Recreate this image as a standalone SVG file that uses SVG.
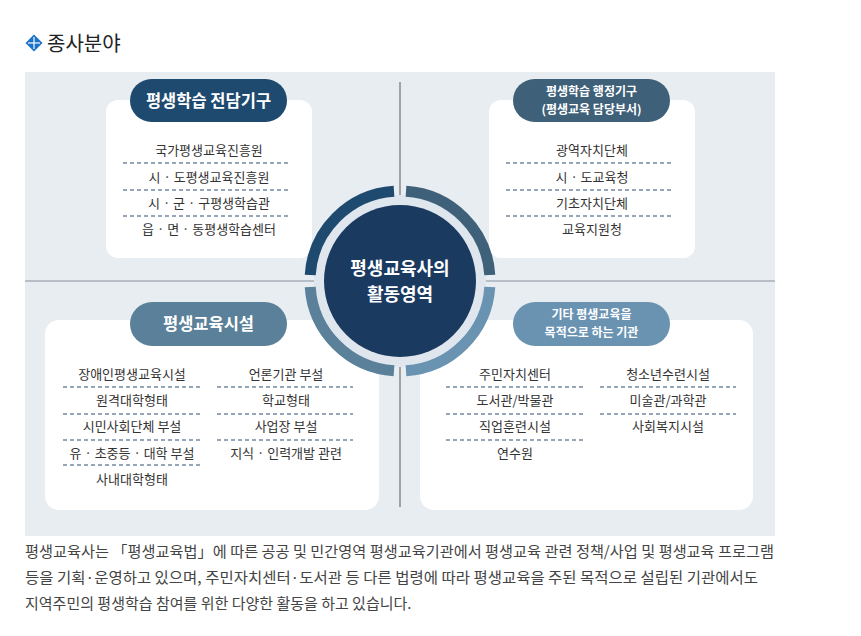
<svg xmlns="http://www.w3.org/2000/svg" width="861" height="636" viewBox="0 0 861 636">
<style>
text{font-family:"Noto Sans CJK KR","Noto Sans",sans-serif}
.it{font-size:13px;fill:#333;text-anchor:middle}
.pl{font-size:16.5px;fill:#fff;font-weight:bold;text-anchor:middle}
.pl2{font-size:12px;fill:#fff;font-weight:bold;text-anchor:middle}
.box{fill:#fff}
.d{stroke:#2c4f78;stroke-width:1.2;stroke-dasharray:4 3;fill:none}
.b{font-size:15px;fill:#444}
</style>
<rect width="861" height="636" fill="#fff"/>
<g id="title">
<rect x="28" y="37" width="12" height="12" transform="rotate(45 34 43)" fill="#1a73c8"/>
<line x1="28" y1="43" x2="40" y2="43" stroke="#fff" stroke-width="1.2"/>
<line x1="34" y1="37" x2="34" y2="49" stroke="#fff" stroke-width="1.2"/>
<text x="47" y="51" font-size="20" fill="#222">종사분야</text>
</g>
<rect x="25" y="72" width="750" height="464" fill="#e8edf2"/>
<g id="connectors">
<line x1="400" y1="82" x2="400" y2="507" stroke="#888" stroke-width="1.5"/>
<line x1="25" y1="281" x2="775" y2="281" stroke="#b8bec6" stroke-width="2"/>
</g>
<g id="tl">
<rect class="box" x="106" y="100" width="206" height="158" rx="12"/>
<rect x="130" y="79" width="157" height="43" rx="21.5" fill="#1e4a70"/>
<text class="pl" x="208.5" y="106.5">평생학습 전담기구</text>
<text class="it" x="209" y="155">국가평생교육진흥원</text>
<text class="it" x="209" y="182">시 · 도평생교육진흥원</text>
<text class="it" x="209" y="208">시 · 군 · 구평생학습관</text>
<text class="it" x="209" y="234">읍 · 면 · 동평생학습센터</text>
<path class="d" d="M123 163H291M123 190H291M123 216H291"/>
</g>
<g id="tr">
<rect class="box" x="489" y="100" width="206" height="158" rx="12"/>
<rect x="513" y="79" width="157" height="43" rx="21.5" fill="#3e6079"/>
<text class="pl2" x="591.5" y="96">평생학습 행정기구</text>
<text class="pl2" x="591.5" y="114">(평생교육 담당부서)</text>
<text class="it" x="592" y="155">광역자치단체</text>
<text class="it" x="592" y="182">시 · 도교육청</text>
<text class="it" x="592" y="208">기초자치단체</text>
<text class="it" x="592" y="234">교육지원청</text>
<path class="d" d="M506 163H674M506 190H674M506 216H674"/>
</g>
<g id="bl">
<rect class="box" x="45" y="320" width="334" height="190" rx="14"/>
<rect x="130" y="302" width="157" height="44" rx="22" fill="#5a8199"/>
<text class="pl" x="208.5" y="330">평생교육시설</text>
<text class="it" x="132" y="379">장애인평생교육시설</text>
<text class="it" x="132" y="405">원격대학형태</text>
<text class="it" x="132" y="431">시민사회단체 부설</text>
<text class="it" x="132" y="458">유 · 초중등 · 대학 부설</text>
<text class="it" x="132" y="484">사내대학형태</text>
<text class="it" x="286" y="379">언론기관 부설</text>
<text class="it" x="286" y="405">학교형태</text>
<text class="it" x="286" y="431">사업장 부설</text>
<text class="it" x="286" y="458">지식 · 인력개발 관련</text>
<path class="d" d="M63 387H200M63 414H200M63 440H200M63 465H200M217 387H353M217 414H353M217 440H353"/>
</g>
<g id="br">
<rect class="box" x="420" y="320" width="333" height="190" rx="14"/>
<rect x="513" y="302" width="157" height="44" rx="22" fill="#6a93b2"/>
<text class="pl2" x="591.5" y="319">기타 평생교육을</text>
<text class="pl2" x="591.5" y="337">목적으로 하는 기관</text>
<text class="it" x="515" y="379">주민자치센터</text>
<text class="it" x="515" y="405">도서관/박물관</text>
<text class="it" x="515" y="431">직업훈련시설</text>
<text class="it" x="515" y="458">연수원</text>
<text class="it" x="668" y="379">청소년수련시설</text>
<text class="it" x="668" y="405">미술관/과학관</text>
<text class="it" x="668" y="431">사회복지시설</text>
<path class="d" d="M446 387H583M446 414H583M446 440H583M600 387H736M600 414H736"/>
</g>
<g id="center">
<circle cx="400" cy="281" r="86" fill="#dfe6ee"/>
<g fill="none" stroke-width="11">
<path d="M394 191.2A89.8 89.8 0 0 0 310.2 275" stroke="#1e4a70"/>
<path d="M406 191.2A89.8 89.8 0 0 1 489.8 275" stroke="#3e6079"/>
<path d="M310.2 287A89.8 89.8 0 0 0 394 370.8" stroke="#5a8199"/>
<path d="M489.8 287A89.8 89.8 0 0 1 406 370.8" stroke="#6a93b2"/>
</g>
<circle cx="400" cy="281" r="76" fill="#1b3a5f"/>
<text x="400" y="275" font-size="18" font-weight="bold" fill="#fff" text-anchor="middle">평생교육사의</text>
<text x="400" y="301" font-size="18" font-weight="bold" fill="#fff" text-anchor="middle">활동영역</text>
</g>
<g id="desc">
<text class="b" x="25" y="557" textLength="749" lengthAdjust="spacingAndGlyphs">평생교육사는 「평생교육법」에 따른 공공 및 민간영역 평생교육기관에서 평생교육 관련 정책/사업 및 평생교육 프로그램</text>
<text class="b" x="25" y="583" textLength="733" lengthAdjust="spacingAndGlyphs">등을 기획·운영하고 있으며, 주민자치센터·도서관 등 다른 법령에 따라 평생교육을 주된 목적으로 설립된 기관에서도</text>
<text class="b" x="25" y="609">지역주민의 평생학습 참여를 위한 다양한 활동을 하고 있습니다.</text>
</g>
</svg>
